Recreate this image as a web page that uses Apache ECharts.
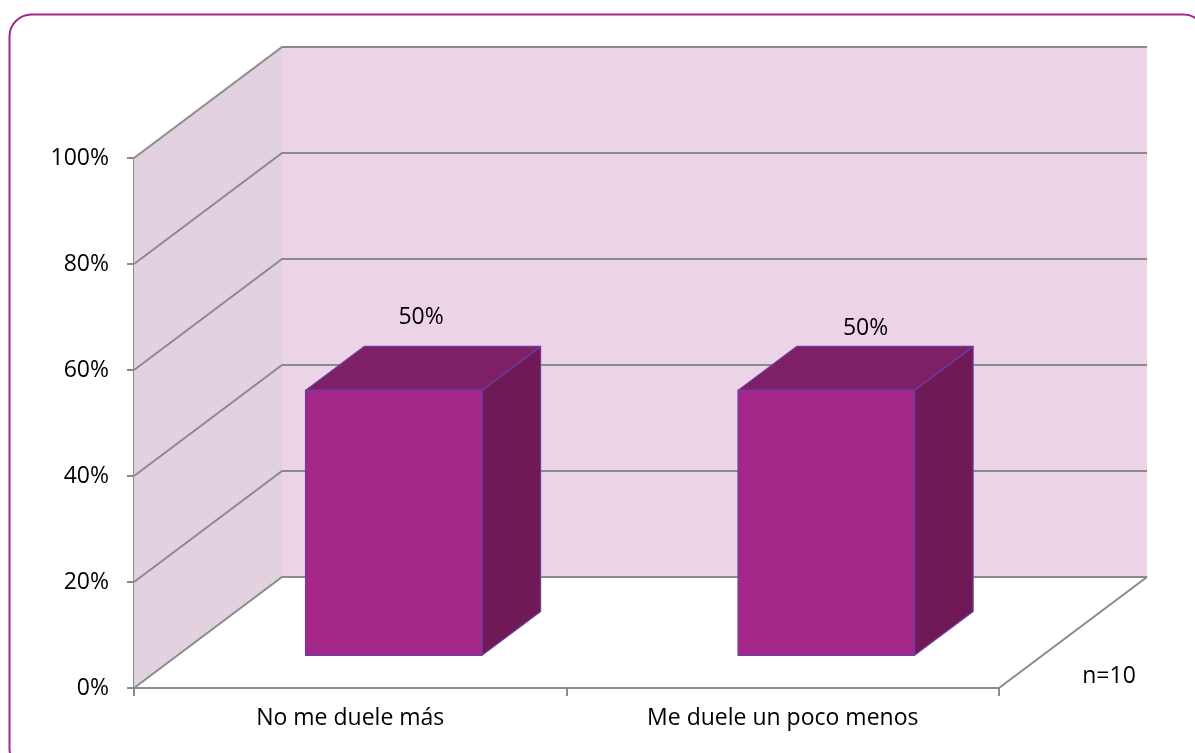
<!DOCTYPE html>
<html>
<head>
<meta charset="utf-8">
<style>
  html, body { margin: 0; padding: 0; background: #ffffff; }
  #chart { width: 1195px; height: 753px; }
</style>
<script src="https://cdn.jsdelivr.net/npm/echarts@6/dist/echarts.min.js"></script>
</head>
<body>
<div id="chart"></div>
<script>
// Categories and values (share of patients, n=10)
const categories = ['No me duele más', 'Me duele un poco menos'];
const values = [0.5, 0.5];
const yTicks = [0, 0.2, 0.4, 0.6, 0.8, 1];
const sampleNote = 'n=10';

// 3D projection of the chart box: depth offset in pixels
const DEPTH_X = 148;
const DEPTH_Y = -111;
// Bar placement inside the box depth and within a category
const BAR_FRONT = 0.294;
const BAR_BACK = 0.69;
const BAR_WIDTH_RATIO = 0.408;
// Fine placement of the value labels above each bar top
const labelShift = [[-2, -51], [10, -40]];

const FONT = '"Open Sans", "DejaVu Sans", sans-serif';
const FONT_SIZE = 23;
const GRID_COLOR = '#8b8b8b';

const chart = echarts.init(document.getElementById('chart'), null, { renderer: 'canvas' });

function pct(v) { return Math.round(v * 100) + '%'; }

function renderWalls(params, api) {
  const cs = params.coordSys;
  const x0 = cs.x, x1 = cs.x + cs.width;
  const yB = cs.y + cs.height, yT = cs.y;
  const children = [
    {
      type: 'polygon',
      shape: { points: [[x0, yB], [x0, yT], [x0 + DEPTH_X, yT + DEPTH_Y], [x0 + DEPTH_X, yB + DEPTH_Y]] },
      style: { fill: '#e2d1df' }
    },
    {
      type: 'polygon',
      shape: { points: [[x0 + DEPTH_X, yT + DEPTH_Y], [x1 + DEPTH_X, yT + DEPTH_Y], [x1 + DEPTH_X, yB + DEPTH_Y], [x0 + DEPTH_X, yB + DEPTH_Y]] },
      style: { fill: '#edd3e6' }
    },
    {
      type: 'line',
      shape: { x1: x1, y1: yB, x2: x1 + DEPTH_X, y2: yB + DEPTH_Y },
      style: { stroke: GRID_COLOR, lineWidth: 2 }
    }
  ];
  yTicks.forEach(function (v) {
    const y = api.coord([0, v])[1];
    children.push({
      type: 'polyline',
      shape: { points: [[x0, y], [x0 + DEPTH_X, y + DEPTH_Y], [x1 + DEPTH_X, y + DEPTH_Y]] },
      style: { stroke: GRID_COLOR, lineWidth: 2, fill: null }
    });
  });
  return { type: 'group', children: children };
}

function renderBar(params, api) {
  const idx = api.value(0);
  const val = api.value(1);
  const base = api.coord([idx, 0]);
  const top = api.coord([idx, val]);
  const catW = api.size([1, 0])[0];
  const w = catW * BAR_WIDTH_RATIO;
  const fx = BAR_FRONT * DEPTH_X, fy = BAR_FRONT * DEPTH_Y;
  const dx = (BAR_BACK - BAR_FRONT) * DEPTH_X, dy = (BAR_BACK - BAR_FRONT) * DEPTH_Y;
  const xl = base[0] - w / 2 + fx, xr = base[0] + w / 2 + fx;
  const yb = base[1] + fy, yt = top[1] + fy;
  const edge = { stroke: '#6b3fa3', lineWidth: 1.2, lineJoin: 'round' };
  const shift = labelShift[params.dataIndex] || [0, -45];
  return {
    type: 'group',
    children: [
      {
        type: 'polygon',
        shape: { points: [[xr, yt], [xr + dx, yt + dy], [xr + dx, yb + dy], [xr, yb]] },
        style: Object.assign({ fill: '#6f1a57' }, edge)
      },
      {
        type: 'polygon',
        shape: { points: [[xl, yt], [xl + dx, yt + dy], [xr + dx, yt + dy], [xr, yt]] },
        style: Object.assign({ fill: '#7e2068' }, edge)
      },
      {
        type: 'rect',
        shape: { x: xl, y: yt, width: xr - xl, height: yb - yt },
        style: Object.assign({ fill: '#a52789' }, edge)
      },
      {
        type: 'text',
        x: (xl + xr) / 2 + dx / 2 + shift[0],
        y: yt + dy / 2 + shift[1],
        style: {
          text: pct(val),
          fill: '#000000',
          font: FONT_SIZE + 'px ' + FONT,
          align: 'center',
          verticalAlign: 'middle'
        }
      }
    ]
  };
}

const option = {
  backgroundColor: '#ffffff',
  animation: false,
  grid: { left: 134, top: 158, right: 196, bottom: 65, containLabel: false },
  xAxis: {
    type: 'category',
    data: categories,
    boundaryGap: true,
    axisLine: { show: true, lineStyle: { color: GRID_COLOR, width: 2 } },
    axisTick: { show: true, length: 8, alignWithLabel: false, lineStyle: { color: GRID_COLOR, width: 2 } },
    axisLabel: { color: '#000000', fontSize: FONT_SIZE, fontFamily: FONT, margin: 19 },
    splitLine: { show: false }
  },
  yAxis: {
    type: 'value',
    min: 0,
    max: 1,
    interval: 0.2,
    axisLine: { show: true, lineStyle: { color: GRID_COLOR, width: 2 } },
    axisTick: { show: true, length: 7, lineStyle: { color: GRID_COLOR, width: 2 } },
    axisLabel: { color: '#000000', fontSize: FONT_SIZE, fontFamily: FONT, margin: 25, formatter: pct },
    splitLine: { show: false }
  },
  series: [
    {
      type: 'custom',
      name: 'walls',
      renderItem: renderWalls,
      data: [[0, 0]],
      z: 1,
      silent: true,
      clip: false
    },
    {
      type: 'custom',
      name: 'bars',
      renderItem: renderBar,
      data: values.map(function (v, i) { return [i, v]; }),
      encode: { x: 0, y: 1 },
      z: 3,
      clip: false
    }
  ],
  graphic: [
    {
      type: 'rect',
      left: 7, top: 12,
      shape: { width: 1196, height: 756, r: 22 },
      style: { fill: null, stroke: '#a3288b', lineWidth: 2 },
      z: 10
    },
    {
      type: 'text',
      x: 1109, y: 676,
      style: {
        text: sampleNote,
        fill: '#000000',
        font: FONT_SIZE + 'px ' + FONT,
        align: 'center',
        verticalAlign: 'middle'
      },
      z: 10
    }
  ]
};

chart.setOption(option);
</script>
</body>
</html>
